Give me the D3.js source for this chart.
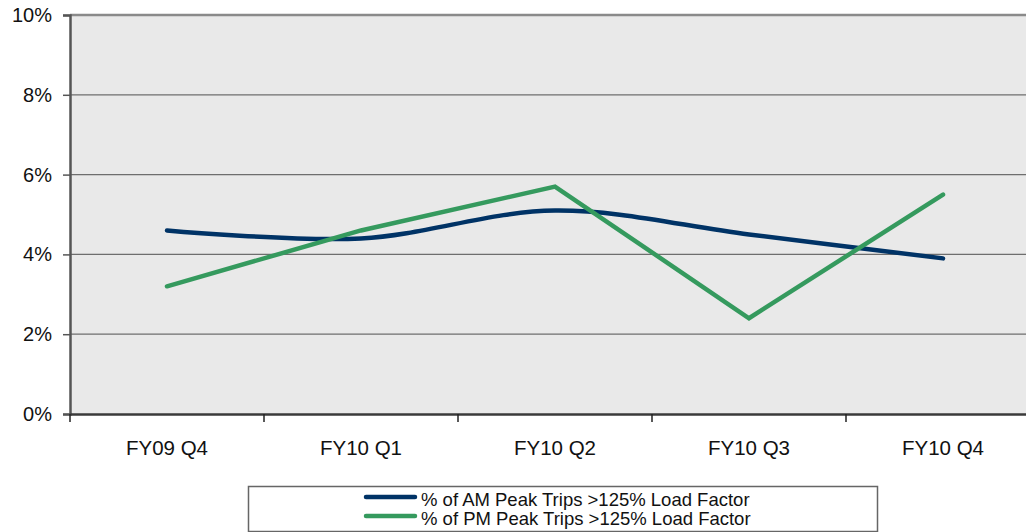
<!DOCTYPE html>
<html>
<head>
<meta charset="utf-8">
<script src="https://cdn.jsdelivr.net/npm/d3@7"></script>
<style>
	body { margin: 0; background: #fff; }
	svg { display: block; font-family: "Liberation Sans", Arial, sans-serif; }
</style>
</head>
<body>
<svg width="1026" height="532"></svg>
<script>
const quarters = ['FY09 Q4', 'FY10 Q1', 'FY10 Q2', 'FY10 Q3', 'FY10 Q4'];
const amPeak = [4.6, 4.4, 5.1, 4.5, 3.9];
const pmPeak = [3.2, 4.6, 5.7, 2.4, 5.5];
const yTicks = [0, 2, 4, 6, 8, 10];
const seriesNames = ['% of AM Peak Trips >125% Load Factor', '% of PM Peak Trips >125% Load Factor'];
const amColour = '#003366';
const pmColour = '#359a5e';

let svg = d3.select('svg');
// plot area runs past the right edge, as in the original
const plotLeft = 70, plotTop = 15, plotRight = 1040, plotBottom = 414;

let x = d3.scaleBand().domain(quarters).range([plotLeft, plotRight]);
let y = d3.scaleLinear().domain([0, 10]).range([plotBottom, plotTop]);

svg.append('rect')
	.attr('x', plotLeft).attr('y', plotTop)
	.attr('width', plotRight - plotLeft).attr('height', plotBottom - plotTop)
	.attr('fill', '#e9e9e9');

// gridlines
svg.append('g')
	.selectAll('line')
	.data(yTicks.filter(function(d){ return d > 0 && d < 10; }))
	.enter().append('line')
		.attr('x1', plotLeft).attr('x2', plotRight)
		.attr('y1', function(d){ return y(d); })
		.attr('y2', function(d){ return y(d); })
		.attr('stroke', '#6e6e6e')
		.attr('stroke-width', 1.2);

// top border
svg.append('line')
	.attr('x1', plotLeft).attr('x2', plotRight)
	.attr('y1', y(10)).attr('y2', y(10))
	.attr('stroke', '#8a8a8a')
	.attr('stroke-width', 2.5);

// y axis
let yAxis = svg.append('g')
	.attr('transform', 'translate(' + plotLeft + ',0)')
	.call(d3.axisLeft(y).tickValues(yTicks).tickSize(7).tickPadding(11)
		.tickFormat(function(d){ return d + '%'; }));
yAxis.select('.domain').attr('stroke', '#555').attr('stroke-width', 2.5);
yAxis.selectAll('.tick line').attr('stroke', '#555').attr('stroke-width', 1.5);
yAxis.selectAll('.tick text').attr('font-size', 20).attr('fill', '#111');

// x axis with ticks between categories
let xAxis = svg.append('g')
	.attr('transform', 'translate(0,' + plotBottom + ')')
	.call(d3.axisBottom(x).tickSize(0).tickPadding(26));
xAxis.select('.domain').attr('stroke', '#3a3a3a').attr('stroke-width', 2.5);
xAxis.selectAll('.tick text').attr('font-size', 20.5).attr('fill', '#111');
xAxis.selectAll('line.sep')
	.data(quarters.map(function(d){ return x(d); }).concat([plotRight]))
	.enter().append('line')
		.attr('class', 'sep')
		.attr('x1', function(d){ return d; }).attr('x2', function(d){ return d; })
		.attr('y1', 0).attr('y2', 8)
		.attr('stroke', '#222')
		.attr('stroke-width', 1.5);

let cx = function(d, i){ return x(quarters[i]) + x.bandwidth() / 2; };

let amLine = d3.line()
	.x(cx)
	.y(function(d){ return y(d); })
	.curve(d3.curveCardinal.tension(0));
let pmLine = d3.line()
	.x(cx)
	.y(function(d){ return y(d); });

svg.append('path')
	.datum(amPeak)
	.attr('d', amLine)
	.attr('fill', 'none')
	.attr('stroke', amColour)
	.attr('stroke-width', 4.5)
	.attr('stroke-linecap', 'round')
	.attr('stroke-linejoin', 'round');

svg.append('path')
	.datum(pmPeak)
	.attr('d', pmLine)
	.attr('fill', 'none')
	.attr('stroke', pmColour)
	.attr('stroke-width', 4.5)
	.attr('stroke-linecap', 'round');

// legend
let legend = svg.append('g');
legend.append('rect')
	.attr('x', 248.5).attr('y', 486.5)
	.attr('width', 629).attr('height', 45)
	.attr('fill', '#fff')
	.attr('stroke', '#666')
	.attr('stroke-width', 1.5);

let items = legend.selectAll('g.item')
	.data([[seriesNames[0], amColour], [seriesNames[1], pmColour]])
	.enter().append('g')
		.attr('class', 'item')
		.attr('transform', function(d, i){ return 'translate(0,' + (497 + i * 19) + ')'; });
items.append('line')
	.attr('x1', 366).attr('x2', 415)
	.attr('stroke', function(d){ return d[1]; })
	.attr('stroke-width', 4.5)
	.attr('stroke-linecap', 'round');
items.append('text')
	.attr('x', 421)
	.attr('y', 2.5)
	.attr('dy', '0.36em')
	.attr('font-size', 18.5)
	.attr('fill', '#111')
	.text(function(d){ return d[0]; });
</script>
</body>
</html>
